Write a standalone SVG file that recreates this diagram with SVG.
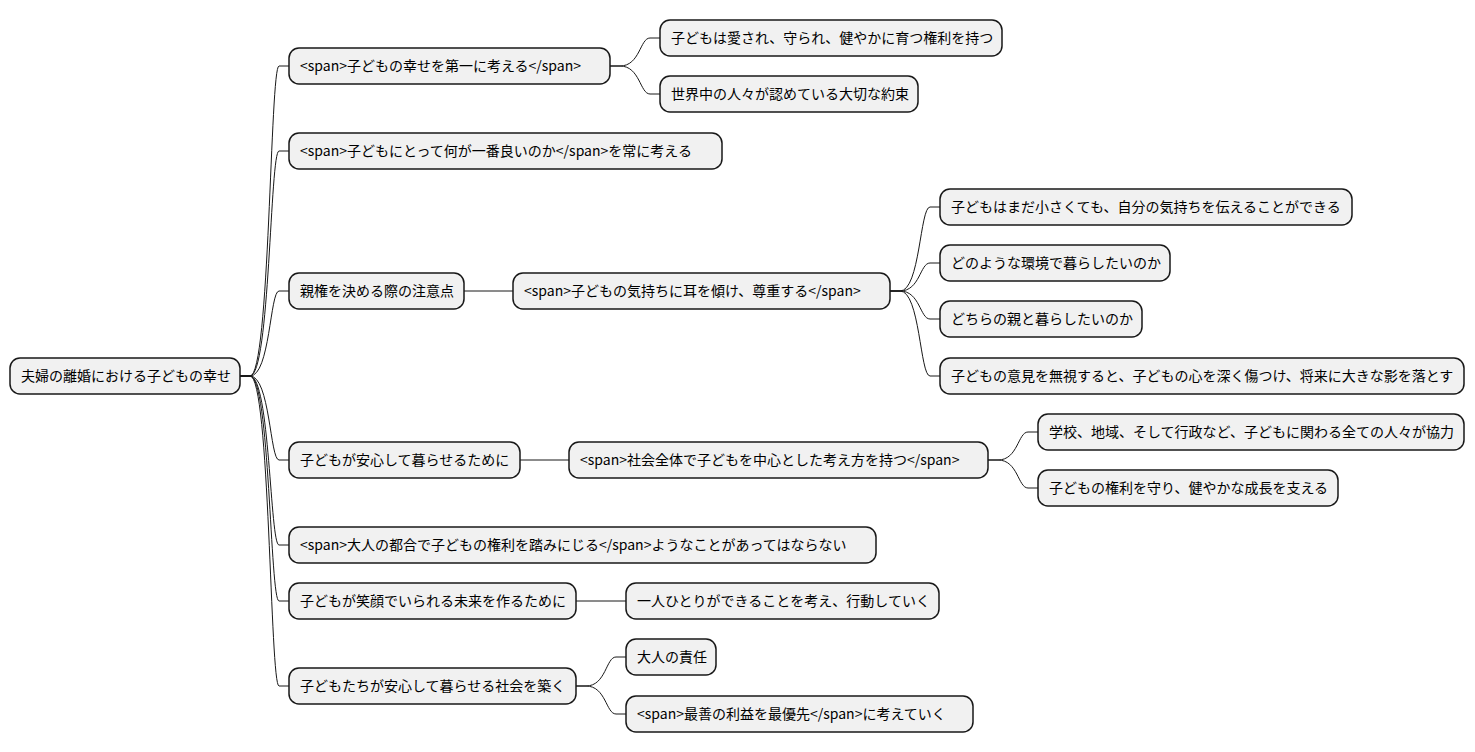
<svg xmlns="http://www.w3.org/2000/svg" width="1475" height="752" viewBox="0 0 1475 752">
<style>
.n rect{fill:#F1F1F1;stroke:#181818;stroke-width:1.5}
.n text{font-family:"Noto Sans CJK JP","DejaVu Sans",sans-serif;font-size:14px;fill:#000}
#c path{fill:none;stroke:#181818;stroke-width:1}
</style>
<rect width="1475" height="752" fill="#fff"/>
<g id="c">
<path d="M240 376 L250 376 C270 376 270 66 279 66 L289 66"/>
<path d="M240 376 L250 376 C270 376 270 151 279 151 L289 151"/>
<path d="M240 376 L250 376 C270 376 270 291 279 291 L289 291"/>
<path d="M240 376 L250 376 C270 376 270 460 279 460 L289 460"/>
<path d="M240 376 L250 376 C270 376 270 545 279 545 L289 545"/>
<path d="M240 376 L250 376 C270 376 270 601 279 601 L289 601"/>
<path d="M240 376 L250 376 C270 376 270 686 279 686 L289 686"/>
<path d="M610 66 L620 66 C640 66 640 38 650 38 L660 38"/>
<path d="M610 66 L620 66 C640 66 640 94 650 94 L660 94"/>
<path d="M464 291 L513 291"/>
<path d="M890 291 L900 291 C920 291 920 207 930 207 L940 207"/>
<path d="M890 291 L900 291 C920 291 920 263 930 263 L940 263"/>
<path d="M890 291 L900 291 C920 291 920 319 930 319 L940 319"/>
<path d="M890 291 L900 291 C920 291 920 376 930 376 L940 376"/>
<path d="M520 460 L569 460"/>
<path d="M988 460 L998 460 C1018 460 1018 432 1028 432 L1038 432"/>
<path d="M988 460 L998 460 C1018 460 1018 488 1028 488 L1038 488"/>
<path d="M576 601 L626 601"/>
<path d="M576 686 L586 686 C606 686 606 657 616 657 L626 657"/>
<path d="M576 686 L586 686 C606 686 606 714 616 714 L626 714"/>
</g>
<g id="root" class="n"><rect x="10" y="358" width="230" height="36" rx="10"/><text x="21" y="381">夫婦の離婚における子どもの幸せ</text></g>
<g id="a1" class="n"><rect x="289" y="48" width="321" height="36" rx="10"/><text x="300" y="71">&lt;span&gt;子どもの幸せを第一に考える&lt;/span&gt;</text></g>
<g id="a2" class="n"><rect x="289" y="133" width="433" height="36" rx="10"/><text x="300" y="156">&lt;span&gt;子どもにとって何が一番良いのか&lt;/span&gt;を常に考える</text></g>
<g id="a3" class="n"><rect x="289" y="273" width="175" height="36" rx="10"/><text x="300" y="296">親権を決める際の注意点</text></g>
<g id="a4" class="n"><rect x="289" y="442" width="231" height="36" rx="10"/><text x="300" y="465">子どもが安心して暮らせるために</text></g>
<g id="a5" class="n"><rect x="289" y="527" width="587" height="36" rx="10"/><text x="300" y="550">&lt;span&gt;大人の都合で子どもの権利を踏みにじる&lt;/span&gt;ようなことがあってはならない</text></g>
<g id="a6" class="n"><rect x="289" y="583" width="287" height="36" rx="10"/><text x="300" y="606">子どもが笑顔でいられる未来を作るために</text></g>
<g id="a7" class="n"><rect x="289" y="668" width="287" height="36" rx="10"/><text x="300" y="691">子どもたちが安心して暮らせる社会を築く</text></g>
<g id="b1" class="n"><rect x="660" y="20" width="342" height="36" rx="10"/><text x="671" y="43">子どもは愛され、守られ、健やかに育つ権利を持つ</text></g>
<g id="b2" class="n"><rect x="660" y="76" width="258" height="36" rx="10"/><text x="671" y="99">世界中の人々が認めている大切な約束</text></g>
<g id="b3" class="n"><rect x="513" y="273" width="377" height="36" rx="10"/><text x="524" y="296">&lt;span&gt;子どもの気持ちに耳を傾け、尊重する&lt;/span&gt;</text></g>
<g id="c1" class="n"><rect x="940" y="189" width="412" height="36" rx="10"/><text x="951" y="212">子どもはまだ小さくても、自分の気持ちを伝えることができる</text></g>
<g id="c2" class="n"><rect x="940" y="245" width="230" height="36" rx="10"/><text x="951" y="268">どのような環境で暮らしたいのか</text></g>
<g id="c3" class="n"><rect x="940" y="301" width="202" height="36" rx="10"/><text x="951" y="324">どちらの親と暮らしたいのか</text></g>
<g id="c4" class="n"><rect x="940" y="358" width="524" height="36" rx="10"/><text x="951" y="381">子どもの意見を無視すると、子どもの心を深く傷つけ、将来に大きな影を落とす</text></g>
<g id="b4" class="n"><rect x="569" y="442" width="419" height="36" rx="10"/><text x="580" y="465">&lt;span&gt;社会全体で子どもを中心とした考え方を持つ&lt;/span&gt;</text></g>
<g id="c5" class="n"><rect x="1038" y="414" width="426" height="36" rx="10"/><text x="1049" y="437">学校、地域、そして行政など、子どもに関わる全ての人々が協力</text></g>
<g id="c6" class="n"><rect x="1038" y="470" width="300" height="36" rx="10"/><text x="1049" y="493">子どもの権利を守り、健やかな成長を支える</text></g>
<g id="b5" class="n"><rect x="626" y="583" width="313" height="36" rx="10"/><text x="637" y="606">一人ひとりができることを考え、行動していく</text></g>
<g id="b6" class="n"><rect x="626" y="639" width="90" height="36" rx="10"/><text x="637" y="662">大人の責任</text></g>
<g id="b7" class="n"><rect x="626" y="696" width="347" height="36" rx="10"/><text x="637" y="719">&lt;span&gt;最善の利益を最優先&lt;/span&gt;に考えていく</text></g>
</svg>
